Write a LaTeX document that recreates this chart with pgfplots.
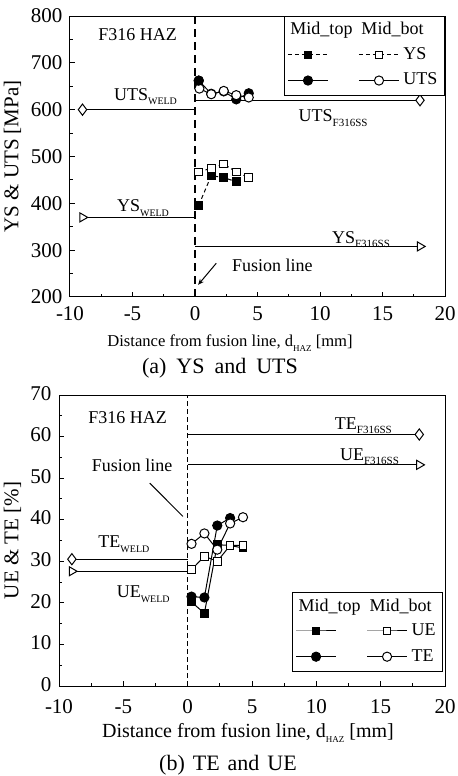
\documentclass[border=0pt]{standalone}
\usepackage{pgfplots}
\pgfplotsset{compat=1.18}
\usepackage{fontspec}
\setmainfont{Liberation Serif}
\usetikzlibrary{arrows.meta}

\newcommand{\sub}[2][5]{\raisebox{-2.2pt}{\fontsize{#1}{#1}\selectfont #2}}
\newcommand{\fs}[1]{\fontsize{#1}{#1}\selectfont}

\pgfplotsset{
  myaxis/.style={
    scale only axis, xmin=-10, xmax=20, xtick={-10,-5,...,20}, minor x tick num=1,
    minor y tick num=1, tick align=inside, xtick pos=bottom, ytick pos=left,
    major tick length=2.5pt, minor tick length=1.5pt,
    axis line style={line width=0.5pt},
    every tick/.style={line width=0.5pt, black},
    tick label style={font=\fontsize{10.5}{12}\selectfont},
    xticklabel style={yshift=-1.2pt},
    yticklabel style={xshift=-0.3pt},
    /pgf/number format/assume math mode=true,
    legend image code/.code={\draw[mark repeat=2,mark phase=2,##1] plot coordinates {(0pt,0pt)(10pt,0pt)(20pt,0pt)};},
    legend columns=2,
    legend style={draw=black, line width=0.5pt, font=\fontsize{9}{10.5}\selectfont,
      inner xsep=1.5pt, inner ysep=1pt, cells={anchor=west},
      /tikz/column 2/.style={column sep=1pt}},
  },
  refline/.style={black, line width=0.5pt},
  dia/.style={mark=diamond*, mark size=2.8pt, mark options={fill=white, solid}},
  tri/.style={mark=triangle*, mark size=2.6pt, mark options={fill=white, rotate=-90, solid}},
  dsh/.style={dash pattern=on 2pt off 1.5pt},
  fsq/.style={black, line width=0.5pt, mark=square*, mark size=1.9pt, mark options={solid}},
  osq/.style={black, line width=0.5pt, mark=square*, mark size=1.9pt, mark options={solid, fill=white}},
  fci/.style={black, line width=0.5pt, mark=*, mark size=2.3pt, mark options={solid}},
  oci/.style={black, line width=0.5pt, mark=*, mark size=2.3pt, mark options={solid, fill=white}},
}

\begin{document}
\begin{tikzpicture}
\useasboundingbox (0,0) rectangle (228.5pt,-388pt);

% ---------------- Panel (a) ----------------
\begin{axis}[myaxis, at={(35pt,-8pt)}, anchor=north west,
  width=187.5pt, height=140.5pt,
  ymin=200, ymax=800, ytick={200,300,...,800},
  legend style={at={(1,1)}, anchor=north east}]
% fusion line
\addplot[black, line width=1pt, dash pattern=on 4pt off 2.5pt, forget plot] coordinates {(0,200)(0,800)};
% reference lines
\addplot[refline, dia, mark indices={1}, forget plot] coordinates {(-9,600)(0,600)};
\addplot[refline, dia, mark indices={2}, forget plot] coordinates {(0,620)(18,620)};
\addplot[refline, tri, mark indices={1}, forget plot] coordinates {(-9,370)(0,370)};
\addplot[refline, tri, mark indices={2}, forget plot] coordinates {(0,308)(18,308)};
% YS
\addplot[fsq, dsh, forget plot] coordinates {(0.3,396)(1.3,459)(2.3,455)(3.3,446)};
\addplot[osq, dsh, forget plot] coordinates {(0.3,467)(1.3,475)(2.3,484)(3.3,467)(4.3,455)};
% UTS
\addplot[fci, forget plot] coordinates {(0.3,662)(1.3,634)(2.3,639)(3.3,622)(4.3,635)};
\addplot[oci, forget plot] coordinates {(0.35,645)(1.3,633)(2.3,640)(3.3,631)(4.3,626)};
\addplot[fci, only marks, forget plot] coordinates {(0.3,662)};
% legend
\addlegendimage{empty legend}
\addlegendimage{empty legend}
\addlegendimage{fsq, dsh}
\addlegendimage{osq, dsh}
\addlegendimage{fci}
\addlegendimage{oci}
\legend{\hspace*{-21pt}Mid\_top, \hspace*{-21pt}Mid\_bot, \strut, YS, \strut, UTS}
% texts
\node[anchor=base west, font=\fs{9}] at (axis cs:-8.3,748) {F316 HAZ};
\node[anchor=base west, font=\fs{9}] at (axis cs:-7.04,620) {UTS\sub{WELD}};
\node[anchor=base west, font=\fs{9}] at (axis cs:7.73,574) {UTS\sub[5.5]{F316SS}};
\node[anchor=base west, font=\fs{9}] at (axis cs:-6.8,382) {YS\sub{WELD}};
\node[anchor=base west, font=\fs{9}] at (axis cs:10.4,315) {YS\sub[5.5]{F316SS}};
\node[anchor=base west, font=\fs{9}] at (axis cs:2.4,254) {Fusion line};
\draw[line width=0.5pt, -{Stealth[length=3pt,width=2.5pt]}] (axis cs:1.7,272) -- (axis cs:0.25,226);
\end{axis}

\node[rotate=90, font=\fs{10.5}] at (6.25pt,-78.25pt) {YS \& UTS [MPa]};
\node[font=\fs{8.3}] at (115pt,-171.5pt) {Distance from fusion line, d\sub[4.5]{HAZ} [mm]};
\node[font=\fs{11}] at (110pt,-184pt) {(a)\hspace{5pt}YS\hspace{5pt}and\hspace{5pt}UTS};

% ---------------- Panel (b) ----------------
\begin{axis}[myaxis, at={(29.5pt,-197.5pt)}, anchor=north west,
  width=193pt, height=145.5pt,
  ymin=0, ymax=70, ytick={0,10,...,70},
  xticklabel style={yshift=-2.2pt},
  yticklabel style={yshift=0.8pt},
  legend style={at={(axis description cs:0.995,0.048)}, anchor=south east}]
\addplot[black, line width=0.5pt, dash pattern=on 2.5pt off 1.5pt, forget plot] coordinates {(0,0)(0,70)};
% reference lines
\addplot[refline, dia, mark indices={1}, forget plot] coordinates {(-9,30.5)(0,30.5)};
\addplot[refline, tri, mark indices={1}, forget plot] coordinates {(-9,27.6)(0,27.6)};
\addplot[refline, dia, mark indices={2}, forget plot] coordinates {(0,60.5)(18,60.5)};
\addplot[refline, tri, mark indices={2}, forget plot] coordinates {(0,53.2)(18,53.2)};
% UE / TE
\addplot[fsq, forget plot] coordinates {(0.3,20.2)(1.3,17.5)(2.3,34)(3.3,33.8)(4.3,33.2)};
\addplot[fci, forget plot] coordinates {(0.3,21.5)(1.3,21.3)(2.3,38.6)(3.3,40.4)};
\addplot[osq, forget plot] coordinates {(0.3,28)(1.3,31.2)(2.3,30)(3.3,33.8)(4.3,33.8)};
\addplot[oci, forget plot] coordinates {(0.3,34.2)(1.3,36.7)(2.3,32.8)(3.3,39.1)(4.3,40.6)};
% legend
\addlegendimage{empty legend}
\addlegendimage{empty legend}
\addlegendimage{fsq}
\addlegendimage{osq}
\addlegendimage{fci}
\addlegendimage{oci}
\legend{\hspace*{-21pt}Mid\_top, \hspace*{-21pt}Mid\_bot, \strut, UE, \strut, TE}
% texts
\node[anchor=base west, font=\fs{9}] at (axis cs:-8.26,63.2) {F316 HAZ};
\node[anchor=base west, font=\fs{9}] at (axis cs:10.9,61.8) {TE\sub[5.5]{F316SS}};
\node[anchor=base west, font=\fs{9}] at (axis cs:11.3,54.3) {UE\sub[5.5]{F316SS}};
\node[anchor=base west, font=\fs{9}] at (axis cs:-7.48,33.2) {TE\sub{WELD}};
\node[anchor=base west, font=\fs{9}] at (axis cs:-6.06,21.2) {UE\sub{WELD}};
\node[anchor=base west, font=\fs{9}] at (axis cs:-8.0,51.6) {Fusion line};
\draw[line width=0.5pt] (axis cs:-2.95,48.8) -- (axis cs:-0.37,40.8);
\end{axis}

\node[rotate=90, font=\fs{10.5}] at (6.25pt,-270.25pt) {UE \& TE [\%]};
\node[font=\fs{10}] at (124pt,-366.5pt) {Distance from fusion line, d\sub[4.5]{HAZ} [mm]};
\node[font=\fs{11}] at (114pt,-382.5pt) {(b)\hspace{4pt}TE\hspace{4pt}and\hspace{4pt}UE};
\end{tikzpicture}
\end{document}
